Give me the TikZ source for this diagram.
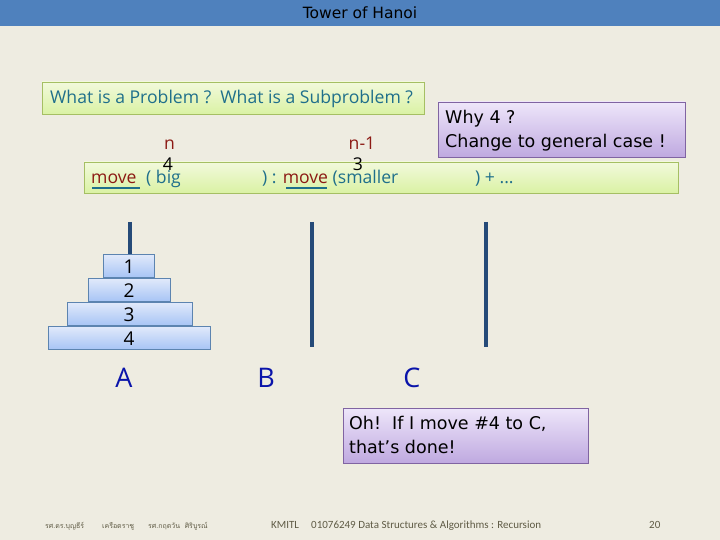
\documentclass[tikz,border=0pt]{standalone}
\usepackage{fontspec}
\setmainfont{Open Sans}
\newfontfamily\comicfont{DejaVu Sans}
\newfontfamily\footfont{Carlito}
\newfontfamily\thaifont[Script=Thai]{Loma}
\definecolor{paper}{HTML}{EEECE1}
\definecolor{header}{HTML}{4F81BD}
\definecolor{teal}{HTML}{1F6F8B}
\definecolor{wine}{HTML}{8C1A14}
\definecolor{peg}{HTML}{254A78}
\definecolor{foot}{HTML}{5F5B45}
\definecolor{greenedge}{HTML}{A5BF63}
\definecolor{greentop}{HTML}{F2F9DC}
\definecolor{greenbot}{HTML}{DAF2A4}
\definecolor{purpleedge}{HTML}{8064A2}
\definecolor{purpletop}{HTML}{EEE6FA}
\definecolor{purplebot}{HTML}{BFA9E0}
\definecolor{diskedge}{HTML}{5C84B0}
\definecolor{disktop}{HTML}{E2EAFB}
\definecolor{diskbot}{HTML}{A8C5F5}
\definecolor{pegname}{HTML}{0A14AA}
\tikzset{
  greenbox/.style={draw=greenedge, line width=0.9pt, top color=greentop, bottom color=greenbot},
  purplebox/.style={draw=purpleedge, line width=0.9pt, top color=purpletop, bottom color=purplebot},
  disk/.style={draw=diskedge, line width=0.9pt, top color=disktop, bottom color=diskbot},
  label/.style={inner sep=0pt, anchor=base west, font=\fontsize{17.6}{20}\selectfont, text=teal},
  note/.style={inner sep=0pt, anchor=north west, align=left, font=\comicfont\fontsize{17.5}{24}\selectfont},
  footer/.style={inner sep=0pt, anchor=base west, font=\footfont\fontsize{11}{13}\selectfont, text=foot},
  thaifooter/.style={inner sep=0pt, anchor=base west, font=\thaifont\fontsize{7}{9}\selectfont, text=foot},
}
\begin{document}
\begin{tikzpicture}[x=1pt, y=-1pt]
\useasboundingbox (0,0) rectangle (720,540);
\fill [paper] (0,0) rectangle (720,540);
\fill [header] (0,0) rectangle (720,26.5);
\node (title) at (360,13) {\comicfont\fontsize{15.5}{16}\selectfont Tower of Hanoi};
% green boxes
\draw [greenbox] (42,82) rectangle (424,114);
\node [label] (question) at (50,104) {What is a Problem ?\ \ What is a Subproblem ?};
\draw [greenbox] (84,162) rectangle (678,193);
\node [label] (moveA) at (91,184) {\textcolor{wine}{move}};
\node [label] (big) at (146,184) {( big};
\node [label] (colon) at (262,184) {) : \textcolor{wine}{move} (smaller};
\node [label] (rest) at (475,184) {) + ...};
\draw [teal, line width=1.8pt] (92,188) -- (140,188);
\draw [teal, line width=1.8pt] (286,188) -- (327,188);
\node [label, text=wine, anchor=base] (n) at (169.5,150) {n};
\node [label, text=wine, anchor=base] (nminus) at (362,150) {n-1};
\node [label, text=black, anchor=base] (four) at (168,171) {4};
\node [label, text=black, anchor=base] (three) at (358,171) {3};
% purple notes
\draw [purplebox] (438,102) rectangle (685,157);
\node [note] (why) at (445,110) {Why 4 ?\\Change to general case !};
\draw [purplebox] (343,408) rectangle (588,463);
\node [note] (oh) at (349,416) {Oh!\ \ If I move \#4 to C,\\that’s done!};
% pegs
\foreach \x/\y in {130/254,312/347,486/347}
  \draw [peg, line width=3.5pt] (\x,222) -- (\x,\y);
% disks
\foreach \l/\r/\t/\d in {103/154/254/1,88/170/278/2,67/192/302/3,48/210/326/4}{
  \draw [disk] (\l,\t) rectangle (\r,\t+23);
  \node [font=\fontsize{19}{20}\selectfont] (disk\d) at (129,\t+13) {\d};}
% peg names
\foreach \x/\n in {124/A,266/B,412/C}
  \node [font=\fontsize{27}{30}\selectfont, text=pegname] (peg\n) at (\x,378) {\n};
% footer
\node [thaifooter] (authorA) at (45,528) {รศ.ดร.บุญธีร์};
\node [thaifooter] (authorB) at (102,528) {เครือตราชู};
\node [thaifooter] (authorC) at (148,528) {รศ.กฤตวัน\ \ ศิริบูรณ์};
\node [footer] (kmitl) at (271,528) {KMITL};
\node [footer] (course) at (311,528) {01076249 Data Structures \& Algorithms : Recursion};
\node [footer] (page) at (649,528) {20};
\end{tikzpicture}
\end{document}
